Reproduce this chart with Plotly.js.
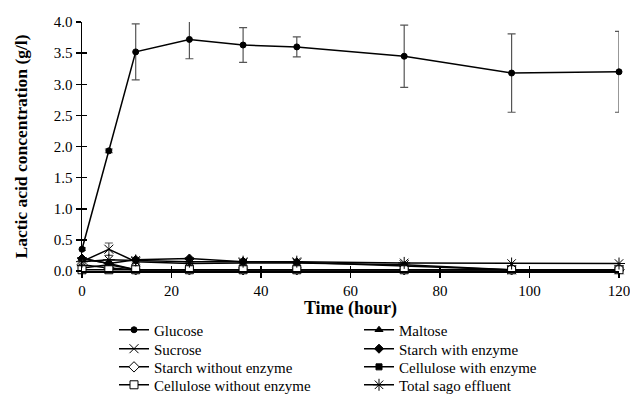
<!DOCTYPE html>
<html><head><meta charset="utf-8">
<script src="https://cdn.plot.ly/plotly-3.0.1.min.js"></script>
<style>body{margin:0;background:#fff}#c{width:630px;height:394px}</style>
</head><body><div id="c"></div>
<script>
const time = [0, 6, 12, 24, 36, 48, 72, 96, 120];
const glucose = [0.35, 1.93, 3.52, 3.72, 3.63, 3.60, 3.45, 3.18, 3.20];
const glucoseErr = [0.02, 0.03, 0.45, 0.31, 0.28, 0.16, 0.50, 0.63, 0.65];
const maltose = [0.20, 0.12, 0.02, 0.02, 0.02, 0.02, 0.02, 0.02, 0.02];
const sucrose = [0.15, 0.35, 0.15, 0.12, 0.13, 0.13, 0.10, 0.02, 0.02];
const sucroseErr = [0.03, 0.10, 0.02, 0.02, 0.02, 0.02, 0.02, 0.01, 0.01];
const starchEnz = [0.20, 0.12, 0.18, 0.20, 0.15, 0.14, 0.08, 0.02, 0.02];
const starchNoEnz = [0.10, 0.05, 0.02, 0.02, 0.02, 0.02, 0.02, 0.02, 0.02];
const celluloseEnz = [0.05, 0.10, 0.02, 0.02, 0.02, 0.02, 0.02, 0.02, 0.02];
const celluloseNoEnz = [0.02, 0.02, 0.02, 0.02, 0.02, 0.02, 0.02, 0.02, 0.02];
const sago = [0.15, 0.18, 0.17, 0.15, 0.15, 0.15, 0.13, 0.12, 0.12];
const names = ["Glucose","Maltose","Sucrose","Starch with enzyme","Starch without enzyme","Cellulose with enzyme","Cellulose without enzyme","Total sago effluent"];

const F = "Liberation Serif, Times New Roman, serif";
function tr(y, name, sym, size, err, fill, leg){
  const t = {x: time, y: y, name: name, type:'scatter', mode:'lines+markers', cliponaxis:false, legend: leg,
    line:{color:'#000', width:1.5},
    marker:{symbol:sym, size:size, color: fill || '#000', line:{color:'#000', width:1}}};
  if (err) t.error_y = {type:'data', array: err, visible:true, color:'#555', thickness:1.2, width:4};
  return t;
}
const data = [
  tr(glucose, names[0], 'circle', 6, glucoseErr, null, 'legend'),
  tr(maltose, names[1], 'triangle-up', 7, null, null, 'legend'),
  tr(sucrose, names[2], 'x-thin-open', 9, sucroseErr, null, 'legend2'),
  tr(starchEnz, names[3], 'diamond', 7, null, null, 'legend2'),
  tr(starchNoEnz, names[4], 'diamond', 8, null, '#fff', 'legend3'),
  tr(celluloseEnz, names[5], 'square', 6, null, null, 'legend3'),
  tr(celluloseNoEnz, names[6], 'square', 8, null, '#fff', 'legend4'),
  tr(sago, names[7], 'asterisk-open', 10, null, null, 'legend4')
];
data.push({x:[0], y:[0], xaxis:'x2', yaxis:'y2', mode:'markers', marker:{opacity:0}, showlegend:false, hoverinfo:'skip'});

function leg(y){
  return {orientation:'h', x:0.0596, xanchor:'left', y:y, yanchor:'middle',
    entrywidth:200, entrywidthmode:'pixels', font:{family:F, size:15}, itemwidth:30, bgcolor:'rgba(0,0,0,0)'};
}
const layout = {
  width:630, height:394,
  margin:{l:82, r:11, t:22, b:123, autoexpand:false},
  paper_bgcolor:'#fff', plot_bgcolor:'#fff',
  font:{family:F, size:15, color:'#000'},
  showlegend:true,
  legend: leg(-0.237), legend2: leg(-0.313), legend3: leg(-0.386), legend4: leg(-0.458),
  xaxis:{range:[0,120], dtick:20, showgrid:false, zeroline:false, showline:true, linecolor:'#000', linewidth:1.5,
    ticks:'outside', ticklen:5, tickwidth:1.5, tickcolor:'#000', ticklabeloverflow:'allow',
    tickfont:{family:F, size:15},
    title:{text:'<b>Time (hour)</b>', font:{family:F, size:18}, standoff:2}},
  yaxis:{range:[0,4], dtick:0.5, tickformat:'.1f', showgrid:false, zeroline:false, showline:true, linecolor:'#000', linewidth:1.5,
    ticks:'outside', ticklen:5, tickwidth:1.5, tickcolor:'#000', tickfont:{family:F, size:15},
    title:{text:'<b>Lactic acid concentration (g/l)</b>', font:{family:F, size:17.5}, standoff:21}},
  xaxis2:{range:[0,120], dtick:20, overlaying:'x', showgrid:false, zeroline:false, showticklabels:false, ticks:'inside', ticklen:5, tickwidth:1.5, tickcolor:'#000', showline:false},
  yaxis2:{range:[0,4], dtick:0.5, overlaying:'y', showgrid:false, zeroline:false, showticklabels:false, ticks:'inside', ticklen:5, tickwidth:1.5, tickcolor:'#000', showline:false}
};
Plotly.newPlot('c', data, layout, {displayModeBar:false, staticPlot:true});
</script></body></html>
